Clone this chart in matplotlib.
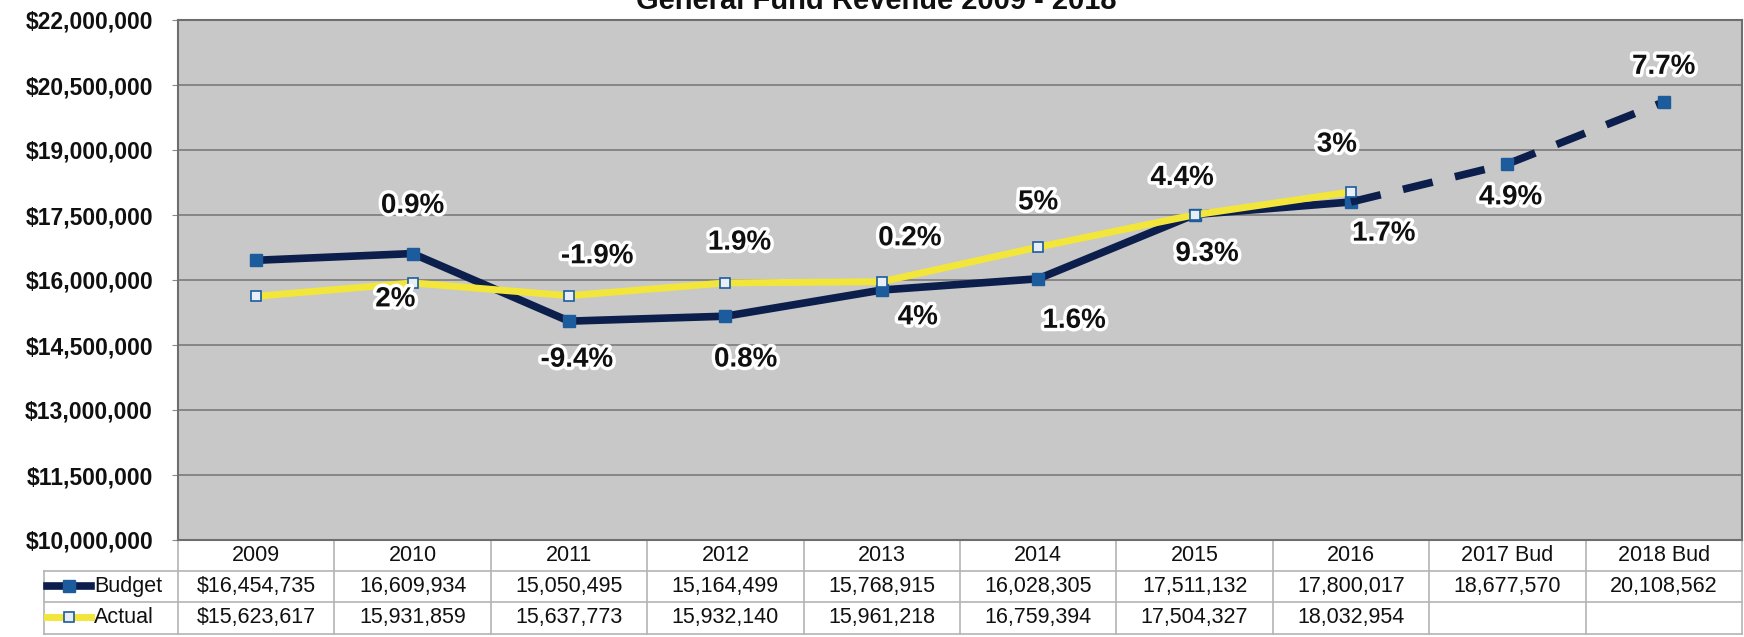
import numpy as np
import matplotlib.pyplot as plt
from matplotlib import patheffects as pe
from matplotlib.transforms import blended_transform_factory
from matplotlib.lines import Line2D
from matplotlib.ticker import FuncFormatter

# data
years = ['2009', '2010', '2011', '2012', '2013', '2014', '2015', '2016',
         '2017 Bud', '2018 Bud']
budget = [16454735, 16609934, 15050495, 15164499, 15768915, 16028305,
          17511132, 17800017, 18677570, 20108562]
actual = [15623617, 15931859, 15637773, 15932140, 15961218, 16759394,
          17504327, 18032954]

# year-on-year change labels as printed on the chart (2010 onwards)
budget_pct = ['0.9%', '-9.4%', '0.8%', '4%', '1.6%', '9.3%', '1.7%', '4.9%',
              '7.7%']
actual_pct = ['2%', '-1.9%', '1.9%', '0.2%', '5%', '4.4%', '3%']

# label placement (x in categories, y in dollars) for the % change labels
bud_lbl_off = [(0.0, 1.10e6), (0.05, -0.89e6), (0.13, -1.0e6), (0.23, -0.63e6),
               (0.23, -0.97e6), (0.08, -0.91e6), (0.21, -0.73e6),
               (0.02, -0.77e6), (0.0, 0.81e6)]
act_lbl_off = [(-0.11, -0.38e6), (0.18, 0.91e6), (0.09, 0.93e6), (0.18, 1.0e6),
               (0.0, 1.03e6), (-0.08, 0.85e6), (-0.09, 1.09e6)]

NAVY = '#0c1e4c'
BLUE = '#1c5c9c'
YELLOW = '#f3e63a'
BG = '#c7c8c7'
SANS = ['Liberation Sans', 'DejaVu Sans']
INK = '#101010'

fig = plt.figure(figsize=(17.44, 6.37), dpi=100)
ax = fig.add_axes([178 / 1744, 1 - 540 / 637, 1564 / 1744, 520 / 637])
ax.set_facecolor(BG)

x = np.arange(len(years))
xa = np.arange(len(actual))

ax.plot(xa, actual, color=YELLOW, lw=5, zorder=3, solid_joinstyle='round',
        marker='s', ms=7, mfc='#e8eef8', mec=BLUE, mew=1.2)
ax.plot(x[:8], budget[:8], color=NAVY, lw=5.5, zorder=2,
        solid_joinstyle='round', marker='s', ms=9, mfc=BLUE, mec=BLUE)
ax.plot(x[7:], budget[7:], color=NAVY, lw=5.5, zorder=2, ls=(0, (4, 3)),
        marker='s', ms=9, mfc=BLUE, mec=BLUE, markevery=[1, 2])

halo = [pe.withStroke(linewidth=5, foreground='white')]
lkw = dict(ha='center', va='center', fontsize=20, fontweight='bold',
           family=SANS, color=INK, path_effects=halo, zorder=5)
for i in range(1, len(budget)):
    dx, dy = bud_lbl_off[i - 1]
    ax.text(i + dx, budget[i] + dy, budget_pct[i - 1], **lkw)
for i in range(1, len(actual)):
    dx, dy = act_lbl_off[i - 1]
    ax.text(i + dx, actual[i] + dy, actual_pct[i - 1], **lkw)

ax.set_xlim(-0.5, len(years) - 0.5)
ax.set_ylim(10000000, 22000000)
ax.set_yticks(np.arange(10000000, 22000001, 1500000))
ax.yaxis.set_major_formatter(FuncFormatter(lambda v, p: '${:,.0f}'.format(v)))
for lab in ax.get_yticklabels():
    lab.set_family(SANS)
    lab.set_fontsize(16.5)
    lab.set_fontweight('bold')
    lab.set_color(INK)
ax.tick_params(axis='y', length=4, color='#888888', pad=14)
ax.set_xticks([])
ax.grid(axis='y', color='#7a7a7a', lw=1.2)
ax.set_axisbelow(True)
for side in ['left', 'top', 'bottom', 'right']:
    ax.spines[side].set_color('#6e6e6e')
    ax.spines[side].set_linewidth(1.5)

# data table under the plot
tr = blended_transform_factory(ax.transData, ax.transAxes)
rh = 0.0596
rows_y = [0, -rh, -2 * rh, -3 * rh - 0.002]
left_x = -1.357
lc = '#b4b4b4'
for i in range(len(years) + 1):
    ax.add_line(Line2D([i - 0.5, i - 0.5], [0, rows_y[3]], transform=tr,
                       color=lc, lw=1.2, clip_on=False))
ax.add_line(Line2D([left_x, left_x], [rows_y[1], rows_y[3]], transform=tr,
                   color=lc, lw=1.2, clip_on=False))
for yy in rows_y[1:]:
    ax.add_line(Line2D([left_x, len(years) - 0.5], [yy, yy], transform=tr,
                       color=lc, lw=1.2, clip_on=False))

tkw = dict(transform=tr, ha='center', va='center', fontsize=15.5,
           family=SANS, color=INK, clip_on=False)
for i, yr in enumerate(years):
    ax.text(i, -rh * 0.5, yr, **tkw)
for i, v in enumerate(budget):
    s = '{:,}'.format(v)
    ax.text(i, -rh * 1.5, ('$' + s) if i == 0 else s, **tkw)
for i, v in enumerate(actual):
    s = '{:,}'.format(v)
    ax.text(i, -rh * 2.5, ('$' + s) if i == 0 else s, **tkw)

# legend keys in the row headers
ax.add_line(Line2D([left_x + 0.02, left_x + 0.30], [-rh * 1.5] * 2,
                   transform=tr, color=NAVY, lw=5.5, clip_on=False))
ax.add_line(Line2D([left_x + 0.16], [-rh * 1.5], transform=tr, marker='s',
                   ms=9, mfc=BLUE, mec=BLUE, clip_on=False))
ax.add_line(Line2D([left_x + 0.02, left_x + 0.30], [-rh * 2.5] * 2,
                   transform=tr, color=YELLOW, lw=5, clip_on=False))
ax.add_line(Line2D([left_x + 0.16], [-rh * 2.5], transform=tr, marker='s',
                   ms=7, mfc='#e8eef8', mec=BLUE, mew=1.2, clip_on=False))
ax.text(left_x + 0.32, -rh * 1.5, 'Budget', transform=tr, ha='left',
        va='center', fontsize=15.5, family=SANS, color=INK)
ax.text(left_x + 0.32, -rh * 2.5, 'Actual', transform=tr, ha='left',
        va='center', fontsize=15.5, family=SANS, color=INK)

# title, cut off by the top edge as in the scan
fig.text(876 / 1744, 1 - 9 / 637, 'General Fund Revenue 2009 - 2018',
         ha='center', va='baseline', fontsize=21, fontweight='bold',
         family=SANS, color=INK)

fig.savefig('out.png', dpi=100)
